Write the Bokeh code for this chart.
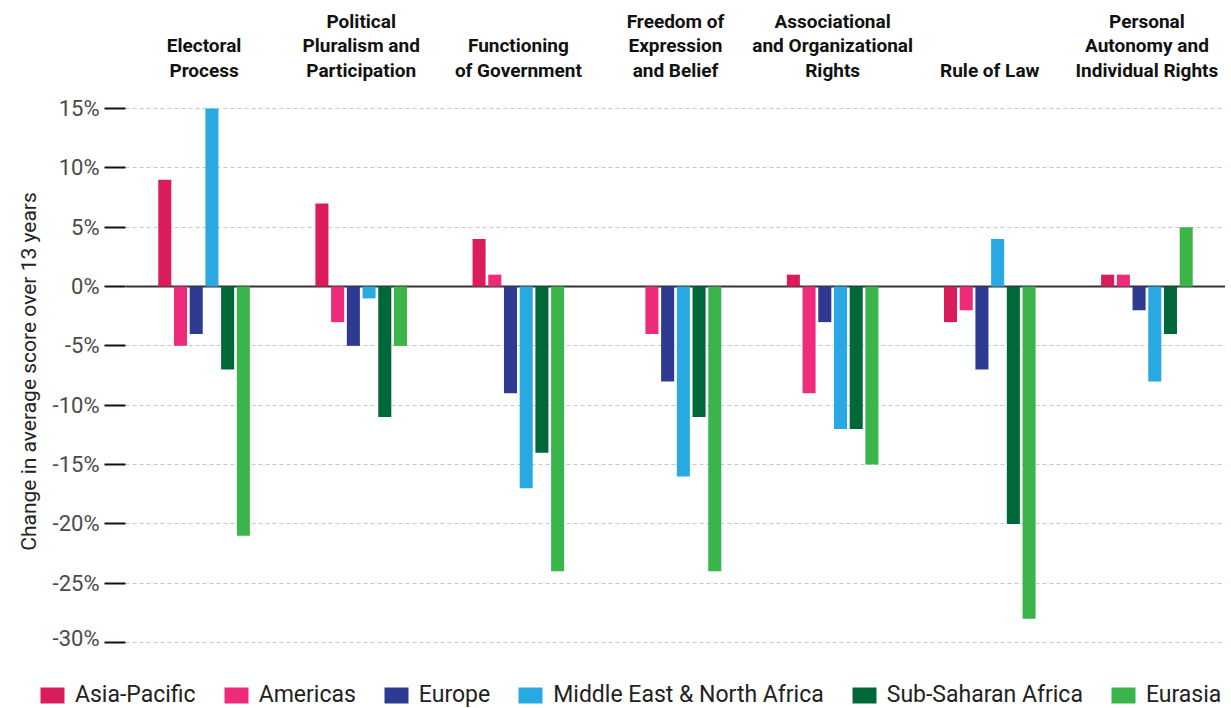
from bokeh.plotting import figure
from bokeh.layouts import column
from bokeh.models import (FactorRange, Span, Legend, LegendItem, ColumnDataSource,
                          FixedTicker, CustomJSTickFormatter)
from bokeh.transform import dodge
from bokeh.embed import file_html
from bokeh.resources import INLINE

categories = ["Electoral\nProcess",
              "Political\nPluralism and\nParticipation",
              "Functioning\nof Government",
              "Freedom of\nExpression\nand Belief",
              "Associational\nand Organizational\nRights",
              "Rule of Law",
              "Personal\nAutonomy and\nIndividual Rights"]

series_names = ["Asia-Pacific", "Americas", "Europe",
                "Middle East & North Africa", "Sub-Saharan Africa", "Eurasia"]
asia_pacific = [9, 7, 4, 0, 1, -3, 1]
americas = [-5, -3, 1, -4, -9, -2, 1]
europe = [-4, -5, -9, -8, -3, -7, -2]
mena = [15, -1, -17, -16, -12, 4, -8]
ssa = [-7, -11, -14, -11, -12, -20, -4]
eurasia = [-21, -5, -24, -24, -15, -28, 5]
y_ticks = [-30, -25, -20, -15, -10, -5, 0, 5, 10, 15]
y_title = "Change in average score over 13 years"

colors = ["#DA1C5C", "#EE2A7B", "#2E3A92", "#29A9E1", "#006838", "#3BB54A"]

src = ColumnDataSource(dict(cat=categories, s0=asia_pacific, s1=americas, s2=europe,
                            s3=mena, s4=ssa, s5=eurasia))

p = figure(x_range=FactorRange(factors=categories, range_padding=0),
           y_range=(-30.67, 16.35), frame_width=1100, frame_height=558,
           output_backend="svg", toolbar_location=None, x_axis_location="above",
           min_border_left=125, min_border_right=0, min_border_top=92, min_border_bottom=0)

zero = Span(location=0, dimension="width", line_color="#333333", line_width=2, level="underlay")
p.add_layout(zero)

for i, col in enumerate(colors):
    p.vbar(x=dodge("cat", (i - 2.5) * 0.1, range=p.x_range), top=f"s{i}", bottom=0,
           width=0.083, source=src, fill_color=col, line_color=None)

p.outline_line_color = None
p.xgrid.grid_line_color = None
p.ygrid.grid_line_color = "#c8c8c8"
p.ygrid.grid_line_dash = "4 3"
p.ygrid.grid_line_width = 1
p.ygrid.ticker = FixedTicker(ticks=y_ticks)

ya = p.yaxis[0]
ya.ticker = FixedTicker(ticks=y_ticks)
ya.formatter = CustomJSTickFormatter(code="return tick + '%';")
ya.axis_line_color = None
ya.major_tick_out = 21
ya.major_tick_in = 0
ya.major_tick_line_color = "#111111"
ya.major_tick_line_width = 2
ya.minor_tick_line_color = None
ya.major_label_text_font = "Roboto"
ya.major_label_text_font_size = "22px"
ya.major_label_text_color = "#4a4a4a"
ya.major_label_standoff = 5
ya.axis_label = y_title
ya.axis_label_text_font = "Roboto"
ya.axis_label_text_font_size = "21px"
ya.axis_label_text_font_style = "normal"
ya.axis_label_text_color = "#222222"
ya.axis_label_standoff = 9

xa = p.xaxis[0]
xa.axis_line_color = None
xa.major_tick_line_color = None
xa.minor_tick_line_color = None
xa.major_label_text_font = "Roboto"
xa.major_label_text_font_size = "19px"
xa.major_label_text_font_style = "bold"
xa.major_label_text_color = "#111111"
xa.major_label_text_line_height = 1.05
xa.major_label_standoff = 5

# legend strip below the chart (swatch renderers sit outside the visible range)
lg = figure(frame_width=1225, frame_height=58, x_range=(0, 1), y_range=(0, 1),
            output_backend="svg", toolbar_location=None,
            x_axis_location=None, y_axis_location=None,
            min_border_left=0, min_border_right=0, min_border_top=0, min_border_bottom=0)
lg.outline_line_color = None
lg.grid.grid_line_color = None
items = []
for name, col in zip(series_names, colors):
    r = lg.vbar(x=[-5], top=[-5], bottom=[-6], width=0.1, fill_color=col, line_color=None)
    items.append(LegendItem(label=name, renderers=[r]))
legend = Legend(items=items, orientation="horizontal", location=(37, 0),
                label_text_font="Roboto", label_text_font_size="23px",
                label_text_color="#222222", glyph_width=30, glyph_height=20,
                spacing=25, label_standoff=8, padding=0, margin=0,
                border_line_color=None, background_fill_alpha=0)
lg.add_layout(legend)

layout = column(p, lg, spacing=0)
open("out.html", "w").write(file_html(layout, INLINE))
